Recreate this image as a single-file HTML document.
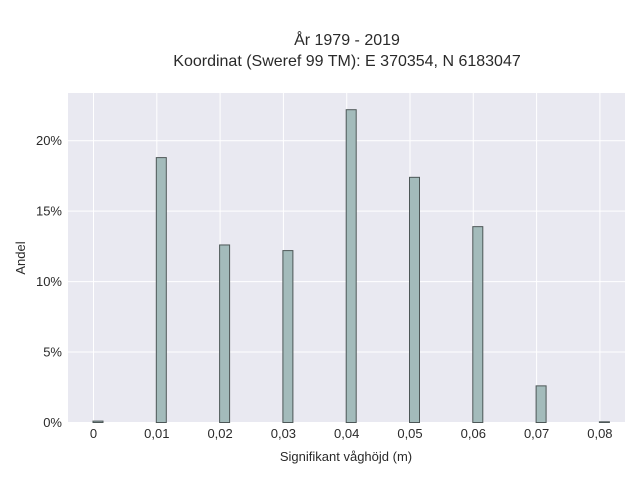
<!DOCTYPE html>
<html><head><meta charset="utf-8"><style>
body{margin:0;background:#fff;font-family:"Liberation Sans",sans-serif;}
</style></head><body>
<svg width="640" height="480" xmlns="http://www.w3.org/2000/svg">
<g id="chart"></g>
</svg>
<script>
const categories=[0,0.01,0.02,0.03,0.04,0.05,0.06,0.07,0.08];
const shares=[0.1,18.8,12.6,12.2,22.2,17.4,13.9,2.6,0.05];
const xTicks=[0,0.01,0.02,0.03,0.04,0.05,0.06,0.07,0.08];
const xTickLabels=["0","0,01","0,02","0,03","0,04","0,05","0,06","0,07","0,08"];
const yTicks=[0,5,10,15,20];
const yTickLabels=["0%","5%","10%","15%","20%"];
const ns="http://www.w3.org/2000/svg";
const g=document.getElementById('chart');
const L=68,R=625,T=93,B=422.5;
const x=v=>93.5+v/0.01*63.3;
const y=v=>B-v/20*281.8;
function el(t,a,p){const e=document.createElementNS(ns,t);for(const k in a)e.setAttribute(k,a[k]);(p||g).appendChild(e);return e;}
const bg=el('rect',{x:L,y:T,width:R-L,height:B-T,fill:'#e9e9f1'});


xTicks.forEach((v,i)=>{
  const l=el('line',{x1:x(v),x2:x(v),y1:T,y2:B,stroke:'#fff','stroke-width':1});
  
  
  const t=el('text',{x:x(v),y:438,'text-anchor':'middle','font-size':13,fill:'#2a2a2a'});
  t.textContent=xTickLabels[i];
  
  
});
yTicks.forEach((v,i)=>{
  const l=el('line',{x1:L,x2:R,y1:y(v),y2:y(v),stroke:'#fff','stroke-width':1});
  
  
  const t=el('text',{x:62,y:y(v)+4.5,'text-anchor':'end','font-size':13,fill:'#2a2a2a'});
  t.textContent=yTickLabels[i];
  
  
});
categories.forEach((c,i)=>{
  const h=B-y(shares[i]);
  const r=el('rect',{x:x(c)-0.5,y:y(shares[i]),width:10,height:h,fill:'#a3bbbb',stroke:'#4d5757','stroke-width':1});
  
  
});
const t1=el('text',{x:347,y:45,'text-anchor':'middle','font-size':16,fill:'#2a2a2a'});t1.textContent='År 1979 - 2019';


const t2=el('text',{x:347,y:66,'text-anchor':'middle','font-size':16,fill:'#2a2a2a'});t2.textContent='Koordinat (Sweref 99 TM): E 370354, N 6183047';


const xt=el('text',{x:346,y:461,'text-anchor':'middle','font-size':13,fill:'#2a2a2a'});xt.textContent='Signifikant våghöjd (m)';


const yt=el('text',{x:25,y:258,'text-anchor':'middle','font-size':13,fill:'#2a2a2a',transform:'rotate(-90 25 258)'});yt.textContent='Andel';


</script>
</body></html>
